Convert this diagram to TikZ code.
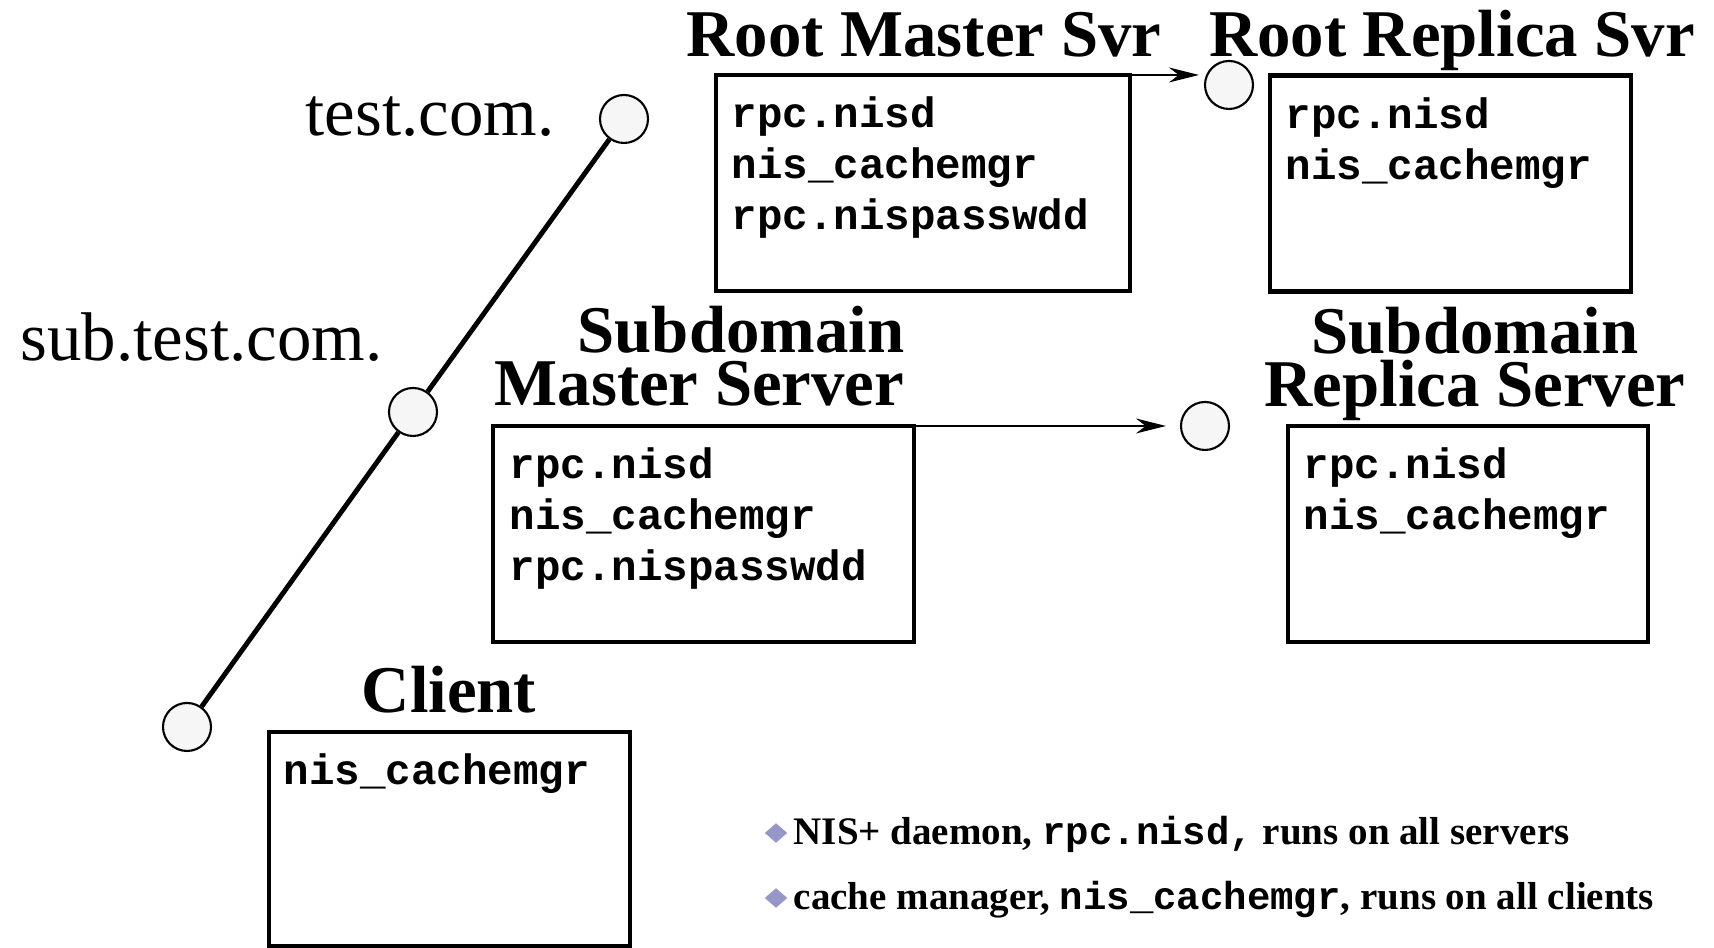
\documentclass[tikz,border=0pt]{standalone}
\usepackage{fontspec}
\setmainfont{Liberation Serif}
\setmonofont{Liberation Mono}
\usetikzlibrary{arrows.meta,calc,positioning,shapes.geometric}
\definecolor{bulletblue}{RGB}{150,150,200}

\begin{document}
\begin{tikzpicture}[x=1cm,y=1cm,
  srvbox/.style={draw,line width=1.4pt,minimum width=#1,minimum height=2.16cm,inner sep=0pt,outer sep=0pt},
  srvbox/.default=3.61cm,
  title/.style={font=\bfseries\fontsize{19}{15.2}\selectfont,inner sep=0pt},
  domlabel/.style={font=\fontsize{19.6}{20}\selectfont,inner sep=0pt,anchor=base east},
  prog/.style={font=\ttfamily\bfseries\fontsize{12.1}{14}\selectfont,inner sep=0pt,anchor=base west},
  hub/.style={circle,draw,line width=0.6pt,fill=gray!7,minimum size=0.48cm,inner sep=0pt},
  note/.style={font=\bfseries\fontsize{11.1}{12}\selectfont,inner sep=0pt,anchor=base west},
  notemark/.style={diamond,fill=bulletblue,minimum width=0.23cm,minimum height=0.2cm,inner sep=0pt},
  link/.style={-{Stealth[length=3mm,width=1.5mm]},line width=0.6pt}]
  \useasboundingbox (0,0) rectangle (17.14,9.48);

  % servers
  \node[srvbox=4.14cm] (rm) at (9.23,7.65) {};
  \node[srvbox] (rr) at (14.505,7.645) {};
  \node[srvbox=4.21cm] (sm) at (7.035,4.14) {};
  \node[srvbox=3.60cm] (sr) at (14.68,4.14) {};
  \node[srvbox,minimum height=2.14cm] (cl) at (4.495,1.09) {};

  \foreach \t [count=\i from 0] in {rpc.nisd,nis\_cachemgr,rpc.nispasswdd}
    {\node[prog] (rm-\i) at ($(rm.north west)+(0.15,{-0.53-0.51*\i})$) {\t};}
  \foreach \t [count=\i from 0] in {rpc.nisd,nis\_cachemgr}
    {\node[prog] (rr-\i) at ($(rr.north west)+(0.15,{-0.53-0.51*\i})$) {\t};}
  \foreach \t [count=\i from 0] in {rpc.nisd,nis\_cachemgr,rpc.nispasswdd}
    {\node[prog] (sm-\i) at ($(sm.north west)+(0.16,{-0.53-0.51*\i})$) {\t};}
  \foreach \t [count=\i from 0] in {rpc.nisd,nis\_cachemgr}
    {\node[prog] (sr-\i) at ($(sr.north west)+(0.15,{-0.53-0.51*\i})$) {\t};}
  \node[prog] (cl-0) at ($(cl.north west)+(0.14,-0.53)$) {nis\_cachemgr};

  \node[title,anchor=base] (rmtitle) at (9.24,8.91) {Root Master Svr};
  \node[title,anchor=base] (rrtitle) at (14.52,8.91) {Root Replica Svr};
  \node[title,anchor=base east,align=right] (smtitle) at (9.05,5.42) {Subdomain\\Master Server};
  \node[title,anchor=base,align=center] (srtitle) at (14.75,5.41) {Subdomain\\Replica Server};
  \node[title,anchor=base] (cltitle) at (4.49,2.35) {Client};

  % domain tree
  \node[hub] (dtest) at (6.24,8.29) {};
  \node[hub] (dsub) at (4.13,5.36) {};
  \node[hub] (dcl) at (1.87,2.21) {};
  \draw[line width=1.4pt] (dtest) -- (dsub) -- (dcl);
  \node[domlabel] (ltest) at (5.55,8.12) {test.com.};
  \node[domlabel] (lsub) at (3.83,5.87) {sub.test.com.};

  % replication
  \node[hub] (rrhub) at (12.29,8.63) {};
  \node[hub] (srhub) at (12.05,5.22) {};
  \draw[link,shorten >=0.05cm] (rm.north east) -- (rrhub.west |- rm.north east);
  \draw[link,shorten >=0.14cm] (sm.north east) -- (srhub.west |- sm.north east);

  % notes
  \node[notemark] (m1) at (7.76,1.15) {};
  \node[notemark] (m2) at (7.76,0.50) {};
  \node[note] (n1) at (7.93,1.03) {NIS+ daemon, \texttt{rpc.nisd,} runs on all servers};
  \node[note] (n2) at (7.93,0.38) {cache manager, \texttt{nis\_cachemgr}, runs on all clients};
\end{tikzpicture}
\end{document}
